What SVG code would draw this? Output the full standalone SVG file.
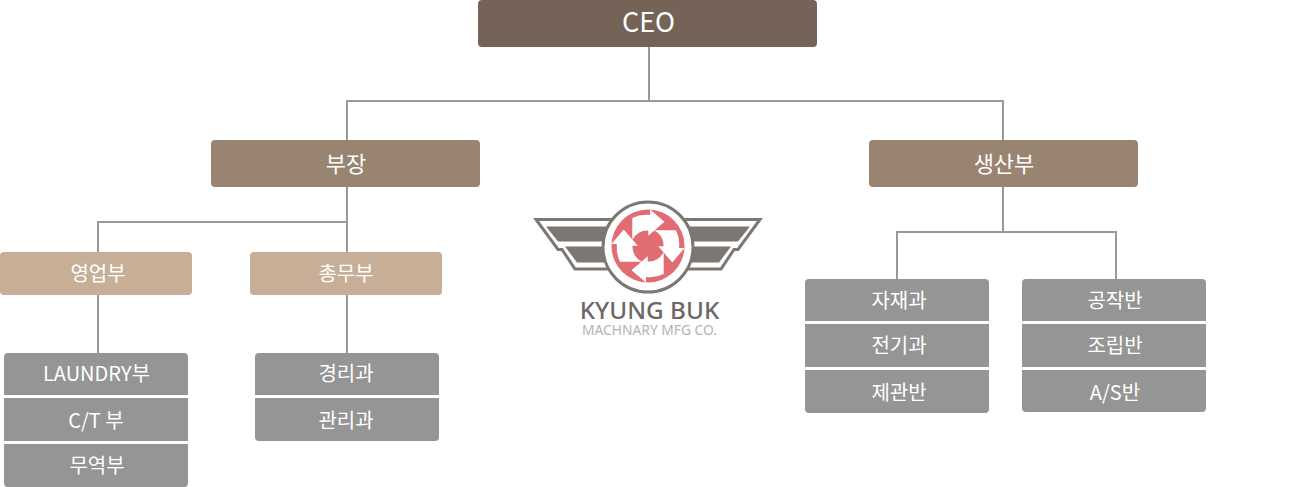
<svg xmlns="http://www.w3.org/2000/svg" width="1298" height="487" viewBox="0 0 1298 487">
<style>
text{font-family:"Noto Sans CJK KR","Noto Sans",sans-serif;fill:#fff;text-anchor:middle}
.t0{font-size:27px}.t1{font-size:22px}.t2{font-size:20px}
.ceo{fill:#746356}.l1{fill:#998472}.l2{fill:#c6af96}.l3{fill:#959595}
.c{fill:none;stroke:#999;stroke-width:2}
.o{fill:none;stroke:#7d7773;stroke-width:3}
.b{fill:#7d7773}.p{fill:#e16c74}.a{fill:#fff}
</style>
<defs>
<path id="arrow" d="M2,-36.500L16.500,-24.300L0.300,-10.300V-15.500A16.500,16.500 0 0 0 -15.700,-6V-28A31,31 0 0 1 2,-31Z"/>
</defs>
<g id="connectors">
<path class="c" d="M649,47V101M347,140V101H1003V140"/>
<path class="c" d="M347,187V252M347,222H98V252M98,295V353M347,295V353"/>
<path class="c" d="M1003,187V232M897,279V232H1116V279"/>
</g>
<g id="n-ceo"><rect class="ceo" x="478" y="0" width="339" height="47" rx="4"/><text class="t0" x="648.500" y="32">CEO</text></g>
<g id="n-bujang"><rect class="l1" x="211" y="140" width="269" height="47" rx="4"/><text class="t1" x="346" y="172">부장</text></g>
<g id="n-saengsan"><rect class="l1" x="869" y="140" width="269" height="47" rx="4"/><text class="t1" x="1004" y="172">생산부</text></g>
<g id="n-youngup"><rect class="l2" x="0" y="252" width="192" height="43" rx="4"/><text class="t2" x="98" y="281">영업부</text></g>
<g id="n-chongmu"><rect class="l2" x="250" y="252" width="192" height="43" rx="4"/><text class="t2" x="346" y="281">총무부</text></g>
<g id="n-laundry"><path class="l3" d="M4,395V357a4,4 0 0 1 4,-4H184a4,4 0 0 1 4,4V395Z"/><text class="t2" x="96.500" y="381">LAUNDRY부</text></g>
<g id="n-ct"><rect class="l3" x="4" y="398" width="184" height="43"/><text class="t2" x="96" y="428">C/T 부</text></g>
<g id="n-trade"><path class="l3" d="M4,444H188V483a4,4 0 0 1 -4,4H8a4,4 0 0 1 -4,-4Z"/><text class="t2" x="97" y="473">무역부</text></g>
<g id="n-gyeongri"><path class="l3" d="M255,395V357a4,4 0 0 1 4,-4H435a4,4 0 0 1 4,4V395Z"/><text class="t2" x="346" y="381">경리과</text></g>
<g id="n-gwanri"><path class="l3" d="M255,398H439V437a4,4 0 0 1 -4,4H259a4,4 0 0 1 -4,-4Z"/><text class="t2" x="346" y="428">관리과</text></g>
<g id="n-jajae"><path class="l3" d="M805,321V283a4,4 0 0 1 4,-4H985a4,4 0 0 1 4,4V321Z"/><text class="t2" x="899" y="308">자재과</text></g>
<g id="n-jeongi"><rect class="l3" x="805" y="324" width="184" height="43"/><text class="t2" x="899" y="353">전기과</text></g>
<g id="n-jegwan"><path class="l3" d="M805,370H989V409a4,4 0 0 1 -4,4H809a4,4 0 0 1 -4,-4Z"/><text class="t2" x="899" y="400">제관반</text></g>
<g id="n-gongjak"><path class="l3" d="M1022,321V283a4,4 0 0 1 4,-4H1202a4,4 0 0 1 4,4V321Z"/><text class="t2" x="1115" y="308">공작반</text></g>
<g id="n-jorip"><rect class="l3" x="1022" y="324" width="184" height="43"/><text class="t2" x="1115" y="353">조립반</text></g>
<g id="n-as"><path class="l3" d="M1022,370H1206V408a4,4 0 0 1 -4,4H1026a4,4 0 0 1 -4,-4Z"/><text class="t2" x="1115" y="400">A/S반</text></g>
<g id="logo">
<path class="o" d="M612,219.500H536L558,249.500H562L575,269H612"/>
<path class="o" d="M684,219.500H760L738,249.500H734L721,269H684"/>
<path class="b" d="M546,226.500H612L606,241.500H558Z"/>
<path class="b" d="M750,226.500H684L690,241.500H738Z"/>
<path class="b" d="M565,246.500H606L608,262.500H577Z"/>
<path class="b" d="M731,246.500H690L688,262.500H719Z"/>
<circle cx="648" cy="247" r="45" fill="#fff" stroke="#7d7773" stroke-width="3"/>
<circle class="p" cx="648" cy="246" r="36.500"/>
<g transform="translate(648,246)">
<use href="#arrow" class="a"/>
<use href="#arrow" class="a" transform="rotate(90)"/>
<use href="#arrow" class="a" transform="rotate(180)"/>
<use href="#arrow" class="a" transform="rotate(270)"/>
</g>
<text x="649.500" y="319" style="font-family:'Noto Sans',sans-serif;font-size:24.300px;font-weight:500;fill:#6b6866">KYUNG BUK</text>
<text x="649.500" y="335" style="font-family:'Noto Sans',sans-serif;font-size:13.800px;fill:#b5b3b2">MACHNARY MFG CO.</text>
</g>
</svg>
